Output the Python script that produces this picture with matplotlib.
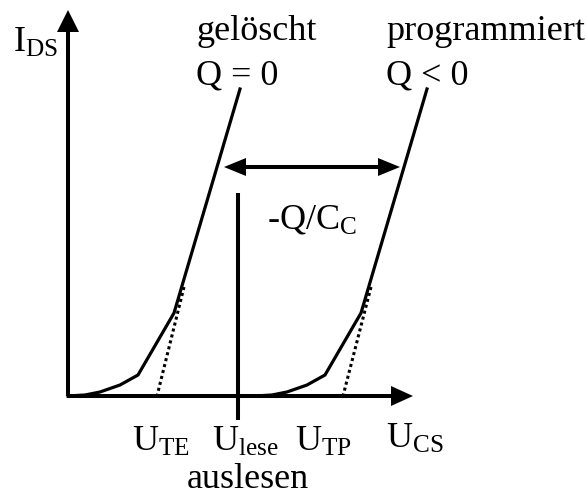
import matplotlib.pyplot as plt
from matplotlib.patches import Polygon

plt.rcParams['font.family'] = ['Liberation Serif', 'DejaVu Serif']
plt.rcParams['mathtext.fontset'] = 'custom'
plt.rcParams['mathtext.rm'] = 'Liberation Serif'
plt.rcParams['mathtext.it'] = 'Liberation Serif'

# curve "geloescht" (Q = 0), picture coordinates
erased_x = [68, 85, 100, 120, 138, 174, 240]
erased_y = [396, 395, 392, 385, 375, 313, 89]
erased_tangent_x = [184, 157]
erased_tangent_y = [287, 396]

# curve "programmiert" (Q < 0)
prog_x = [255, 272, 287, 307, 325, 361, 427]
prog_y = [396, 395, 392, 385, 375, 313, 89]
prog_tangent_x = [371, 343]
prog_tangent_y = [287, 396]

# axes, shift arrow, read line
y_axis_x, y_axis_top = 68, 10
x_axis_y, x_axis_right = 396, 413
shift_y, shift_left, shift_right = 167, 224, 400
lese_x, lese_top, lese_bottom = 238, 193, 420

fig = plt.figure(figsize=(5.87, 4.97), dpi=100)
ax = fig.add_axes([0, 0, 1, 1])
ax.set_xlim(0, 587)
ax.set_ylim(497, 0)
ax.axis('off')

lw_axis = 2.9
lw_curve = 2.3

# axes
ax.plot([y_axis_x, y_axis_x], [x_axis_y, y_axis_top + 15], color='black', lw=lw_axis, solid_capstyle='butt')
ax.plot([y_axis_x - 1.5, x_axis_right - 15], [x_axis_y, x_axis_y], color='black', lw=lw_axis, solid_capstyle='butt')
ax.add_patch(Polygon([[y_axis_x, y_axis_top], [y_axis_x - 11, y_axis_top + 22], [y_axis_x + 11, y_axis_top + 22]],
                     closed=True, color='black', lw=0))
ax.add_patch(Polygon([[x_axis_right, x_axis_y], [x_axis_right - 22, x_axis_y - 10], [x_axis_right - 22, x_axis_y + 10]],
                     closed=True, color='black', lw=0))

# curves
ax.plot(erased_x, erased_y, color='black', lw=lw_curve, solid_joinstyle='miter')
ax.plot(prog_x, prog_y, color='black', lw=lw_curve, solid_joinstyle='miter')
ax.plot(erased_tangent_x, erased_tangent_y, color='black', lw=2.2, ls=(0, (1.0, 1.0)))
ax.plot(prog_tangent_x, prog_tangent_y, color='black', lw=2.2, ls=(0, (1.0, 1.0)))

# shift arrow
ax.plot([shift_left + 18, shift_right - 18], [shift_y, shift_y], color='black', lw=lw_axis, solid_capstyle='butt')
ax.add_patch(Polygon([[shift_left, shift_y], [shift_left + 22, shift_y - 9], [shift_left + 22, shift_y + 9]],
                     closed=True, color='black', lw=0))
ax.add_patch(Polygon([[shift_right, shift_y], [shift_right - 22, shift_y - 9], [shift_right - 22, shift_y + 9]],
                     closed=True, color='black', lw=0))

# read voltage line
ax.plot([lese_x, lese_x], [lese_top, lese_bottom], color='black', lw=lw_axis, solid_capstyle='butt')

fs = 26
ax.text(13, 52, r'$\mathrm{I}_{\mathrm{DS}}$', fontsize=fs, ha='left', va='baseline')
ax.text(196, 40, 'gelöscht', fontsize=fs, ha='left', va='baseline')
ax.text(196, 84, 'Q = 0', fontsize=fs, ha='left', va='baseline')
ax.text(386, 40, 'programmiert', fontsize=fs, ha='left', va='baseline')
ax.text(386, 84, 'Q < 0', fontsize=fs, ha='left', va='baseline')
ax.text(267, 228, r'-$\mathrm{Q/C}_{\mathrm{C}}$', fontsize=fs, ha='left', va='baseline')
ax.text(132, 451, r'$\mathrm{U}_{\mathrm{TE}}$', fontsize=fs, ha='left', va='baseline')
ax.text(212, 451, r'$\mathrm{U}_{\mathrm{lese}}$', fontsize=fs, ha='left', va='baseline')
ax.text(295, 451, r'$\mathrm{U}_{\mathrm{TP}}$', fontsize=fs, ha='left', va='baseline')
ax.text(386, 448, r'$\mathrm{U}_{\mathrm{CS}}$', fontsize=fs, ha='left', va='baseline')
ax.text(187, 488, 'auslesen', fontsize=fs, ha='left', va='baseline')

fig.savefig('out.png', dpi=100)
